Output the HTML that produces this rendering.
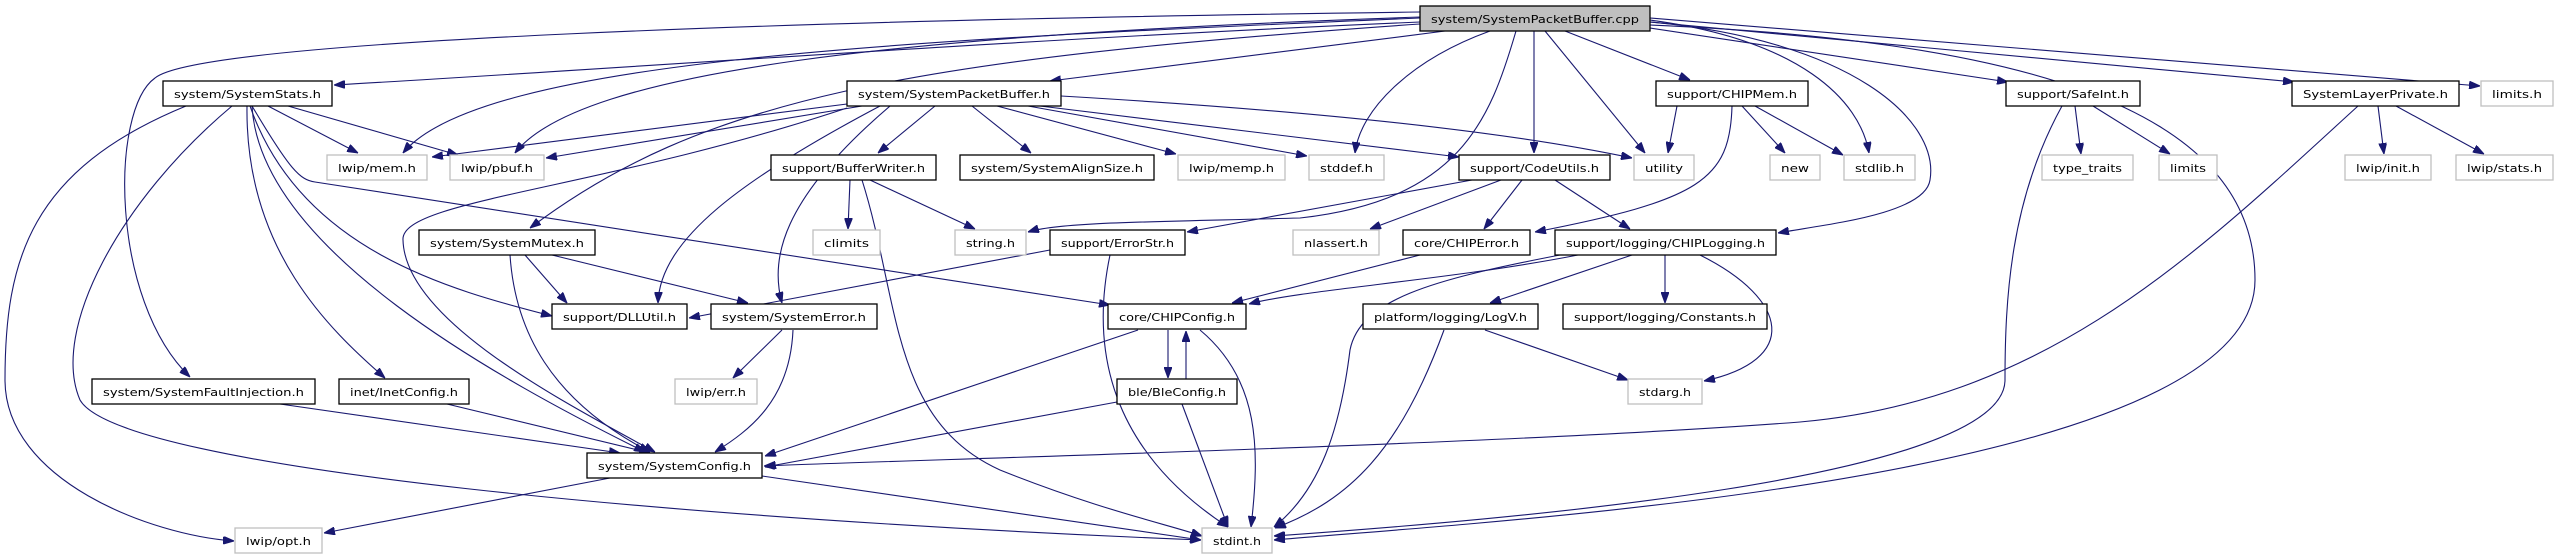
<!DOCTYPE html>
<html><head><meta charset="utf-8"><style>
html,body{margin:0;padding:0;background:#fff;}
svg{display:block;}
text{font-family:"DejaVu Sans","Liberation Sans",sans-serif;font-size:11px;fill:#000;}
.e{fill:none;stroke:#191970;stroke-width:1.1;marker-end:url(#a);}
.n{fill:#fff;stroke:#000;stroke-width:1.3;}
.g{fill:#fff;stroke:#bfbfbf;stroke-width:1.3;}
</style></head><body>
<svg width="2557" height="560" viewBox="0 0 2557 560" xmlns="http://www.w3.org/2000/svg">
<defs><marker id="a" markerUnits="userSpaceOnUse" markerWidth="11" markerHeight="8" refX="11" refY="4" orient="auto"><path d="M0,0 L11,4 L0,8 z" fill="#191970" stroke="#191970"/></marker></defs>
<path class="e" d="M1420,22 C1000,40 600,70 334,85"/>
<path class="e" d="M1445,31 C1300,50 1150,68 1050,81"/>
<path class="e" d="M1420,18 C900,40 480,60 403,153"/>
<path class="e" d="M1420,17 C900,35 580,70 515,153"/>
<path class="e" d="M1420,24 C900,60 700,100 530,228"/>
<path class="e" d="M1420,12 C800,20 200,40 155,78 C110,110 110,300 190,377"/>
<path class="e" d="M1490,31 C1410,60 1360,110 1355,153"/>
<path class="e" d="M1516,31 C1490,120 1460,200 1300,218 C1150,222 1060,222 1028,232"/>
<path class="e" d="M1534,31 L1534,153"/>
<path class="e" d="M1545,31 L1645,153"/>
<path class="e" d="M1565,31 L1690,80"/>
<path class="e" d="M1650,20 C1800,40 1860,100 1869,153"/>
<path class="e" d="M1650,22 C1850,40 1940,120 1930,180 C1925,215 1820,225 1778,233"/>
<path class="e" d="M1650,28 L2008,82"/>
<path class="e" d="M1650,22 L2294,82"/>
<path class="e" d="M1650,18 L2480,86"/>
<path class="e" d="M1650,25 C2000,40 2255,100 2255,280 C2255,480 1500,520 1274,540"/>
<path class="e" d="M268,106 L358,153"/>
<path class="e" d="M288,106 L458,155"/>
<path class="e" d="M186,106 C30,170 5,260 5,380 C5,480 150,535 234,541"/>
<path class="e" d="M232,106 C120,200 50,330 80,400 C120,470 700,520 1201,540"/>
<path class="e" d="M247,106 C245,250 330,330 385,378"/>
<path class="e" d="M252,106 C260,250 500,380 645,452"/>
<path class="e" d="M250,106 C300,250 450,290 552,316"/>
<path class="e" d="M252,106 C290,170 300,180 315,182 L1110,305"/>
<path class="e" d="M847,104 L432,157"/>
<path class="e" d="M862,106 L546,158"/>
<path class="e" d="M935,106 L878,153"/>
<path class="e" d="M972,106 L1031,153"/>
<path class="e" d="M997,106 L1176,154"/>
<path class="e" d="M1028,106 L1307,156"/>
<path class="e" d="M1040,106 L1459,157"/>
<path class="e" d="M1061,96 C1300,110 1500,130 1632,158"/>
<path class="e" d="M880,106 C740,180 660,240 658,303"/>
<path class="e" d="M890,106 C780,200 770,260 782,303"/>
<path class="e" d="M847,108 C600,190 400,200 403,240 C405,320 560,400 655,452"/>
<path class="e" d="M850,180 L848,229"/>
<path class="e" d="M870,180 L975,229"/>
<path class="e" d="M862,180 C900,300 890,420 1000,470 C1100,510 1170,525 1202,536"/>
<path class="e" d="M525,255 L567,303"/>
<path class="e" d="M552,255 L748,303"/>
<path class="e" d="M510,255 C515,330 550,400 650,452"/>
<path class="e" d="M782,330 L733,378"/>
<path class="e" d="M793,330 C790,400 750,430 715,452"/>
<path class="e" d="M280,404 L620,453"/>
<path class="e" d="M447,404 L650,453"/>
<path class="e" d="M610,478 L324,533"/>
<path class="e" d="M762,476 L1201,540"/>
<path class="e" d="M1677,106 L1668,153"/>
<path class="e" d="M1755,106 L1843,155"/>
<path class="e" d="M1742,106 L1785,153"/>
<path class="e" d="M1732,106 C1730,180 1700,200 1535,232"/>
<path class="e" d="M1472,180 L1187,232"/>
<path class="e" d="M1501,180 L1370,229"/>
<path class="e" d="M1522,180 L1484,229"/>
<path class="e" d="M1555,180 L1630,229"/>
<path class="e" d="M1050,250 L689,318"/>
<path class="e" d="M1110,255 C1090,350 1110,450 1228,527"/>
<path class="e" d="M1420,255 L1232,303"/>
<path class="e" d="M1578,255 C1450,280 1300,290 1249,304"/>
<path class="e" d="M1632,255 L1490,303"/>
<path class="e" d="M1665,255 L1665,303"/>
<path class="e" d="M1700,255 C1790,300 1800,360 1704,381"/>
<path class="e" d="M1560,255 C1430,280 1360,300 1350,350 C1340,430 1320,490 1274,527"/>
<path class="e" d="M1168,330 L1168,378"/>
<path class="e" d="M1138,330 L765,456"/>
<path class="e" d="M1200,330 C1260,380 1260,450 1251,527"/>
<path class="e" d="M1186,379 L1186,331"/>
<path class="e" d="M1117,402 L765,467"/>
<path class="e" d="M1182,404 L1228,527"/>
<path class="e" d="M1485,330 L1628,380"/>
<path class="e" d="M1444,330 C1400,450 1350,500 1275,528"/>
<path class="e" d="M2075,106 L2081,154"/>
<path class="e" d="M2093,106 L2170,154"/>
<path class="e" d="M2062,106 C2010,200 2005,300 2005,380 C2005,480 1500,520 1274,536"/>
<path class="e" d="M2378,106 L2384,154"/>
<path class="e" d="M2396,106 L2484,154"/>
<path class="e" d="M2358,106 C2200,250 2050,400 1800,422 C1500,445 900,460 764,466"/>

<rect x="1420" y="6" width="230" height="25" fill="#bfbfbf" stroke="#000" stroke-width="1.3"/><text x="1535" y="23" text-anchor="middle" textLength="208" lengthAdjust="spacingAndGlyphs">system/SystemPacketBuffer.cpp</text>
<rect class="n" x="163" y="81" width="169" height="25"/><text x="247.5" y="98" text-anchor="middle" textLength="147" lengthAdjust="spacingAndGlyphs">system/SystemStats.h</text>
<rect class="n" x="847" y="81" width="214" height="25"/><text x="954" y="98" text-anchor="middle" textLength="192" lengthAdjust="spacingAndGlyphs">system/SystemPacketBuffer.h</text>
<rect class="n" x="1656" y="81" width="152" height="25"/><text x="1732" y="98" text-anchor="middle" textLength="130" lengthAdjust="spacingAndGlyphs">support/CHIPMem.h</text>
<rect class="n" x="2006" y="81" width="134" height="25"/><text x="2073" y="98" text-anchor="middle" textLength="112" lengthAdjust="spacingAndGlyphs">support/SafeInt.h</text>
<rect class="n" x="2292" y="81" width="167" height="25"/><text x="2375.5" y="98" text-anchor="middle" textLength="145" lengthAdjust="spacingAndGlyphs">SystemLayerPrivate.h</text>
<rect class="g" x="2481" y="81" width="72" height="25"/><text x="2517" y="98" text-anchor="middle" textLength="50" lengthAdjust="spacingAndGlyphs">limits.h</text>

<rect class="g" x="327" y="155" width="100" height="25"/><text x="377" y="172" text-anchor="middle" textLength="78" lengthAdjust="spacingAndGlyphs">lwip/mem.h</text>
<rect class="g" x="450" y="155" width="94" height="25"/><text x="497" y="172" text-anchor="middle" textLength="72" lengthAdjust="spacingAndGlyphs">lwip/pbuf.h</text>
<rect class="n" x="771" y="155" width="165" height="25"/><text x="853.5" y="172" text-anchor="middle" textLength="143" lengthAdjust="spacingAndGlyphs">support/BufferWriter.h</text>
<rect class="n" x="960" y="155" width="194" height="25"/><text x="1057" y="172" text-anchor="middle" textLength="172" lengthAdjust="spacingAndGlyphs">system/SystemAlignSize.h</text>
<rect class="g" x="1178" y="155" width="107" height="25"/><text x="1231.5" y="172" text-anchor="middle" textLength="85" lengthAdjust="spacingAndGlyphs">lwip/memp.h</text>
<rect class="g" x="1309" y="155" width="75" height="25"/><text x="1346.5" y="172" text-anchor="middle" textLength="53" lengthAdjust="spacingAndGlyphs">stddef.h</text>
<rect class="n" x="1459" y="155" width="151" height="25"/><text x="1534.5" y="172" text-anchor="middle" textLength="129" lengthAdjust="spacingAndGlyphs">support/CodeUtils.h</text>
<rect class="g" x="1634" y="155" width="60" height="25"/><text x="1664" y="172" text-anchor="middle" textLength="38" lengthAdjust="spacingAndGlyphs">utility</text>
<rect class="g" x="1770" y="155" width="50" height="25"/><text x="1795" y="172" text-anchor="middle" textLength="28" lengthAdjust="spacingAndGlyphs">new</text>
<rect class="g" x="1844" y="155" width="71" height="25"/><text x="1879.5" y="172" text-anchor="middle" textLength="49" lengthAdjust="spacingAndGlyphs">stdlib.h</text>
<rect class="g" x="2042" y="155" width="91" height="25"/><text x="2087.5" y="172" text-anchor="middle" textLength="69" lengthAdjust="spacingAndGlyphs">type_traits</text>
<rect class="g" x="2159" y="155" width="58" height="25"/><text x="2188" y="172" text-anchor="middle" textLength="36" lengthAdjust="spacingAndGlyphs">limits</text>
<rect class="g" x="2345" y="155" width="86" height="25"/><text x="2388" y="172" text-anchor="middle" textLength="64" lengthAdjust="spacingAndGlyphs">lwip/init.h</text>
<rect class="g" x="2456" y="155" width="97" height="25"/><text x="2504.5" y="172" text-anchor="middle" textLength="75" lengthAdjust="spacingAndGlyphs">lwip/stats.h</text>

<rect class="n" x="419" y="230" width="176" height="25"/><text x="507" y="247" text-anchor="middle" textLength="154" lengthAdjust="spacingAndGlyphs">system/SystemMutex.h</text>
<rect class="g" x="813" y="230" width="67" height="25"/><text x="846.5" y="247" text-anchor="middle" textLength="45" lengthAdjust="spacingAndGlyphs">climits</text>
<rect class="g" x="955" y="230" width="71" height="25"/><text x="990.5" y="247" text-anchor="middle" textLength="49" lengthAdjust="spacingAndGlyphs">string.h</text>
<rect class="n" x="1050" y="230" width="135" height="25"/><text x="1117.5" y="247" text-anchor="middle" textLength="113" lengthAdjust="spacingAndGlyphs">support/ErrorStr.h</text>
<rect class="g" x="1293" y="230" width="86" height="25"/><text x="1336" y="247" text-anchor="middle" textLength="64" lengthAdjust="spacingAndGlyphs">nlassert.h</text>
<rect class="n" x="1403" y="230" width="127" height="25"/><text x="1466.5" y="247" text-anchor="middle" textLength="105" lengthAdjust="spacingAndGlyphs">core/CHIPError.h</text>
<rect class="n" x="1555" y="230" width="221" height="25"/><text x="1665.5" y="247" text-anchor="middle" textLength="199" lengthAdjust="spacingAndGlyphs">support/logging/CHIPLogging.h</text>

<rect class="n" x="552" y="304" width="135" height="25"/><text x="619.5" y="321" text-anchor="middle" textLength="113" lengthAdjust="spacingAndGlyphs">support/DLLUtil.h</text>
<rect class="n" x="711" y="304" width="166" height="25"/><text x="794" y="321" text-anchor="middle" textLength="144" lengthAdjust="spacingAndGlyphs">system/SystemError.h</text>
<rect class="n" x="1108" y="304" width="138" height="25"/><text x="1177" y="321" text-anchor="middle" textLength="116" lengthAdjust="spacingAndGlyphs">core/CHIPConfig.h</text>
<rect class="n" x="1363" y="304" width="175" height="25"/><text x="1450.5" y="321" text-anchor="middle" textLength="153" lengthAdjust="spacingAndGlyphs">platform/logging/LogV.h</text>
<rect class="n" x="1563" y="304" width="204" height="25"/><text x="1665" y="321" text-anchor="middle" textLength="182" lengthAdjust="spacingAndGlyphs">support/logging/Constants.h</text>

<rect class="n" x="92" y="379" width="223" height="25"/><text x="203.5" y="396" text-anchor="middle" textLength="201" lengthAdjust="spacingAndGlyphs">system/SystemFaultInjection.h</text>
<rect class="n" x="339" y="379" width="130" height="25"/><text x="404" y="396" text-anchor="middle" textLength="108" lengthAdjust="spacingAndGlyphs">inet/InetConfig.h</text>
<rect class="g" x="675" y="379" width="82" height="25"/><text x="716" y="396" text-anchor="middle" textLength="60" lengthAdjust="spacingAndGlyphs">lwip/err.h</text>
<rect class="n" x="1117" y="379" width="120" height="25"/><text x="1177" y="396" text-anchor="middle" textLength="98" lengthAdjust="spacingAndGlyphs">ble/BleConfig.h</text>
<rect class="g" x="1628" y="379" width="74" height="25"/><text x="1665" y="396" text-anchor="middle" textLength="52" lengthAdjust="spacingAndGlyphs">stdarg.h</text>

<rect class="n" x="587" y="453" width="175" height="25"/><text x="674.5" y="470" text-anchor="middle" textLength="153" lengthAdjust="spacingAndGlyphs">system/SystemConfig.h</text>

<rect class="g" x="235" y="528" width="87" height="25"/><text x="278.5" y="545" text-anchor="middle" textLength="65" lengthAdjust="spacingAndGlyphs">lwip/opt.h</text>
<rect class="g" x="1202" y="528" width="70" height="25"/><text x="1237" y="545" text-anchor="middle" textLength="48" lengthAdjust="spacingAndGlyphs">stdint.h</text>
</svg>
</body></html>
